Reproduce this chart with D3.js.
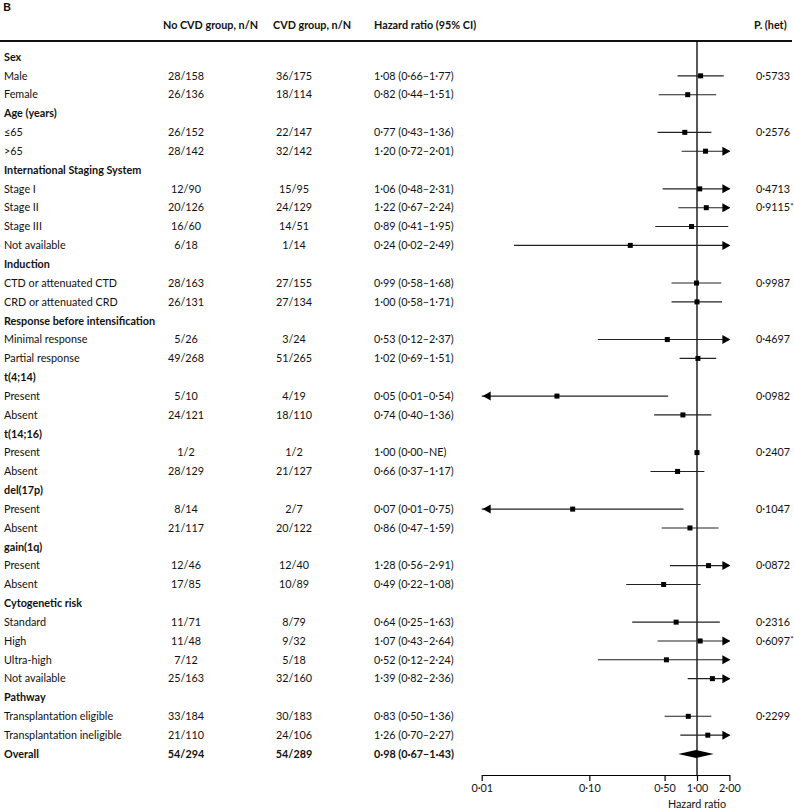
<!DOCTYPE html>
<html>
<head>
<meta charset="utf-8">
<script src="https://cdn.jsdelivr.net/npm/d3@7"></script>
<style>
body { margin: 0; background: #fff; }
text { font-family: Lato, "Open Sans", sans-serif; font-size: 10.8px; fill: #111; }
</style>
</head>
<body>
<div id="chart"></div>
<script>
// rows of the table, top to bottom
var labels = ["Sex", "Male", "Female", "Age (years)", "\u226465", ">65",
    "International Staging System", "Stage I", "Stage II", "Stage III", "Not available",
    "Induction", "CTD or attenuated CTD", "CRD or attenuated CRD",
    "Response before intensification", "Minimal response", "Partial response",
    "t(4;14)", "Present", "Absent", "t(14;16)", "Present", "Absent",
    "del(17p)", "Present", "Absent", "gain(1q)", "Present", "Absent",
    "Cytogenetic risk", "Standard", "High", "Ultra-high", "Not available",
    "Pathway", "Transplantation eligible", "Transplantation ineligible", "Overall"];
// h = group heading, r = subgroup row, t = overall
var rowKind = ["h","r","r","h","r","r","h","r","r","r","r","h","r","r","h","r","r",
    "h","r","r","h","r","r","h","r","r","h","r","r","h","r","r","r","r","h","r","r","t"];
var noCvd = ["","28/158","26/136","","26/152","28/142","","12/90","20/126","16/60","6/18",
    "","28/163","26/131","","5/26","49/268","","5/10","24/121","","1/2","28/129",
    "","8/14","21/117","","12/46","17/85","","11/71","11/48","7/12","25/163",
    "","33/184","21/110","54/294"];
var cvd = ["","36/175","18/114","","22/147","32/142","","15/95","24/129","14/51","1/14",
    "","27/155","27/134","","3/24","51/265","","4/19","18/110","","1/2","21/127",
    "","2/7","20/122","","12/40","10/89","","8/79","9/32","5/18","32/160",
    "","30/183","24/106","54/289"];
var hr = [null,1.08,0.82,null,0.77,1.20,null,1.06,1.22,0.89,0.24,null,0.99,1.00,null,0.53,1.02,
    null,0.05,0.74,null,1.00,0.66,null,0.07,0.86,null,1.28,0.49,null,0.64,1.07,0.52,1.39,
    null,0.83,1.26,0.98];
var lower = [null,0.66,0.44,null,0.43,0.72,null,0.48,0.67,0.41,0.02,null,0.58,0.58,null,0.12,0.69,
    null,0.01,0.40,null,0.00,0.37,null,0.01,0.47,null,0.56,0.22,null,0.25,0.43,0.12,0.82,
    null,0.50,0.70,0.67];
var upper = [null,1.77,1.51,null,1.36,2.01,null,2.31,2.24,1.95,2.49,null,1.68,1.71,null,2.37,1.51,
    null,0.54,1.36,null,null,1.17,null,0.75,1.59,null,2.91,1.08,null,1.63,2.64,2.24,2.36,
    null,1.36,2.27,1.43];
var pHet = ["","0\u00b75733","","","0\u00b72576","","","0\u00b74713","0\u00b79115*","","",
    "","0\u00b79987","","","0\u00b74697","","","0\u00b70982","","","0\u00b72407","",
    "","0\u00b71047","","","0\u00b70872","","","0\u00b72316","0\u00b76097*","","",
    "","0\u00b72299","",""];
var headers = ["No CVD group, n/N", "CVD group, n/N", "Hazard ratio (95% CI)", "P. (het)"];
var axisTicks = [0.01, 0.1, 0.5, 1, 2];

function dot(v) {
    return d3.format(".2f")(v).replace(".", "\u00b7");
}
function hrText(i) {
    if (hr[i] == null) return "";
    var hiTxt = upper[i] == null ? "NE" : dot(upper[i]);
    return dot(hr[i]) + " (" + dot(lower[i]) + "\u2013" + hiTxt + ")";
}

function forestPlot() {
    var w = 794;
    var h = 809;

    var svg = d3.select("#chart")
        .append("svg")
        .attr("width", w)
        .attr("height", h);

    var y = d3.scaleLinear().domain([0, labels.length - 1]).range([57, 754]);
    var x = d3.scaleLog().domain([0.01, 2]).range([481.7, 729.4]);
    var lo = x.domain()[0], hi = x.domain()[1];
    var idx = d3.range(labels.length);

    svg.append("text").attr("x", 3).attr("y", 7).attr("dy", "0.35em")
        .style("font-weight", "bold").style("font-size", "12px").text("B");

    // column headers
    var headX = [163, 273, 374, 754];
    svg.selectAll("text.head")
        .data(headers)
        .enter()
        .append("text")
        .attr("class", "head")
        .attr("x", function(d, i) { return headX[i]; })
        .attr("y", 25.5)
        .attr("dy", "0.35em")
        .style("font-weight", "bold")
        .text(function(d) { return d; });

    svg.append("line")
        .attr("x1", 0).attr("x2", 792)
        .attr("y1", 41).attr("y2", 41)
        .attr("stroke", "#111").attr("stroke-width", 2);

    function bold(i) { return rowKind[i] == "r" ? "normal" : "bold"; }

    var rows = svg.selectAll("g.row")
        .data(idx)
        .enter()
        .append("g")
        .attr("class", "row")
        .attr("transform", function(i) { return "translate(0," + y(i) + ")"; });

    rows.append("text").attr("x", 4).attr("dy", "0.35em")
        .style("font-weight", bold)
        .text(function(i) { return labels[i]; });
    rows.append("text").attr("x", 186).attr("dy", "0.35em").attr("text-anchor", "middle")
        .style("font-weight", bold)
        .text(function(i) { return noCvd[i]; });
    rows.append("text").attr("x", 294).attr("dy", "0.35em").attr("text-anchor", "middle")
        .style("font-weight", bold)
        .text(function(i) { return cvd[i]; });
    rows.append("text").attr("x", 374).attr("dy", "0.35em")
        .style("font-weight", bold)
        .text(hrText);

    var p = rows.append("text").attr("x", 756).attr("dy", "0.35em");
    p.append("tspan").text(function(i) { return pHet[i].replace("*", ""); });
    p.append("tspan").attr("dy", "-0.3em").style("font-size", "8px")
        .text(function(i) { return pHet[i].indexOf("*") >= 0 ? "*" : ""; });

    // reference line at hazard ratio 1
    svg.append("line")
        .attr("x1", x(1)).attr("x2", x(1))
        .attr("y1", 41).attr("y2", 775)
        .attr("stroke", "#000").attr("stroke-width", 1.3);

    var subRows = idx.filter(function(i) { return rowKind[i] == "r"; });

    // confidence intervals
    var ci = svg.selectAll("g.ci")
        .data(subRows.filter(function(i) { return lower[i] > 0 && upper[i] != null; }))
        .enter()
        .append("g")
        .attr("class", "ci")
        .attr("transform", function(i) { return "translate(0," + y(i) + ")"; });

    ci.append("line")
        .attr("x1", function(i) { return x(Math.max(lower[i], lo)); })
        .attr("x2", function(i) { return x(Math.min(upper[i], hi)); })
        .attr("stroke", "#222").attr("stroke-width", 1.1);

    ci.filter(function(i) { return upper[i] > hi; })
        .append("path")
        .attr("d", function() {
            var t = x(hi) + 1;
            return "M" + t + ",0L" + (t - 8) + ",-4.5L" + (t - 8) + ",4.5Z";
        })
        .attr("fill", "#000");

    ci.filter(function(i) { return lower[i] <= lo; })
        .append("path")
        .attr("d", function() {
            var t = x(lo) + 1;
            return "M" + t + ",0L" + (t + 8) + ",-4.5L" + (t + 8) + ",4.5Z";
        })
        .attr("fill", "#000");

    // point estimates
    svg.selectAll("rect.est")
        .data(subRows)
        .enter()
        .append("rect")
        .attr("class", "est")
        .attr("x", function(i) { return x(hr[i]) - 2.5; })
        .attr("y", function(i) { return y(i) - 2.5; })
        .attr("width", 5)
        .attr("height", 5)
        .attr("fill", "#000");

    // overall diamond
    var total = idx.filter(function(i) { return rowKind[i] == "t"; });
    svg.selectAll("path.total")
        .data(total)
        .enter()
        .append("path")
        .attr("class", "total")
        .attr("d", function(i) {
            var c = y(i);
            return "M" + x(lower[i]) + "," + c + "L" + x(hr[i]) + "," + (c - 4) +
                "L" + x(upper[i]) + "," + c + "L" + x(hr[i]) + "," + (c + 4) + "Z";
        })
        .attr("fill", "#000");

    // axis
    var axis = d3.axisBottom(x)
        .tickValues(axisTicks)
        .tickSize(6)
        .tickSizeOuter(0)
        .tickFormat(dot);

    var ag = svg.append("g")
        .attr("transform", "translate(0,775)")
        .call(axis);
    ag.selectAll("path, line").attr("stroke", "#000").attr("stroke-width", 1.2);
    ag.selectAll("text")
        .attr("font-family", null).attr("font-size", null)
        .attr("fill", null)
        .attr("y", 9);

    svg.append("text")
        .attr("x", x(1)).attr("y", 804).attr("dy", "0.35em")
        .attr("text-anchor", "middle")
        .text("Hazard ratio");
}

window.onload = forestPlot;
</script>
</body>
</html>
